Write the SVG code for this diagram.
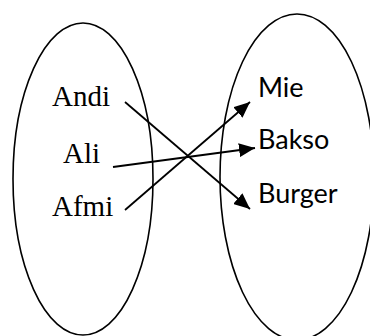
<svg xmlns="http://www.w3.org/2000/svg" width="370" height="336" viewBox="0 0 370 336">
<style>
.set{fill:none;stroke:#000;stroke-width:1.6}
.l{font-family:"Liberation Serif","Times New Roman",serif;font-size:29px;fill:#000}
.r{font-family:Lato,"Liberation Sans",sans-serif;font-size:27px;fill:#000}
.c{fill:none;stroke:#000;stroke-width:1.8}
</style>
<defs>
<marker id="ah" markerUnits="userSpaceOnUse" markerWidth="16" markerHeight="14" refX="16" refY="7" orient="auto">
<path d="M0,0 L16,7 L0,14 Z" fill="#000"/>
</marker>
</defs>
<g id="domain">
<ellipse class="set" cx="83" cy="179" rx="70" ry="156"/>
<text class="l" x="52" y="106">Andi</text>
<text class="l" x="63" y="163">Ali</text>
<text class="l" x="52" y="216">Afmi</text>
</g>
<g id="codomain">
<ellipse class="set" cx="297" cy="177" rx="77" ry="163"/>
<text class="r" x="258" y="97">Mie</text>
<text class="r" x="258" y="149">Bakso</text>
<text class="r" x="258" y="203">Burger</text>
</g>
<g id="connectors">
<line class="c" x1="125" y1="102" x2="250" y2="209" marker-end="url(#ah)"/>
<line class="c" x1="113" y1="167" x2="255" y2="148" marker-end="url(#ah)"/>
<line class="c" x1="125" y1="210" x2="250" y2="102" marker-end="url(#ah)"/>
</g>
</svg>
